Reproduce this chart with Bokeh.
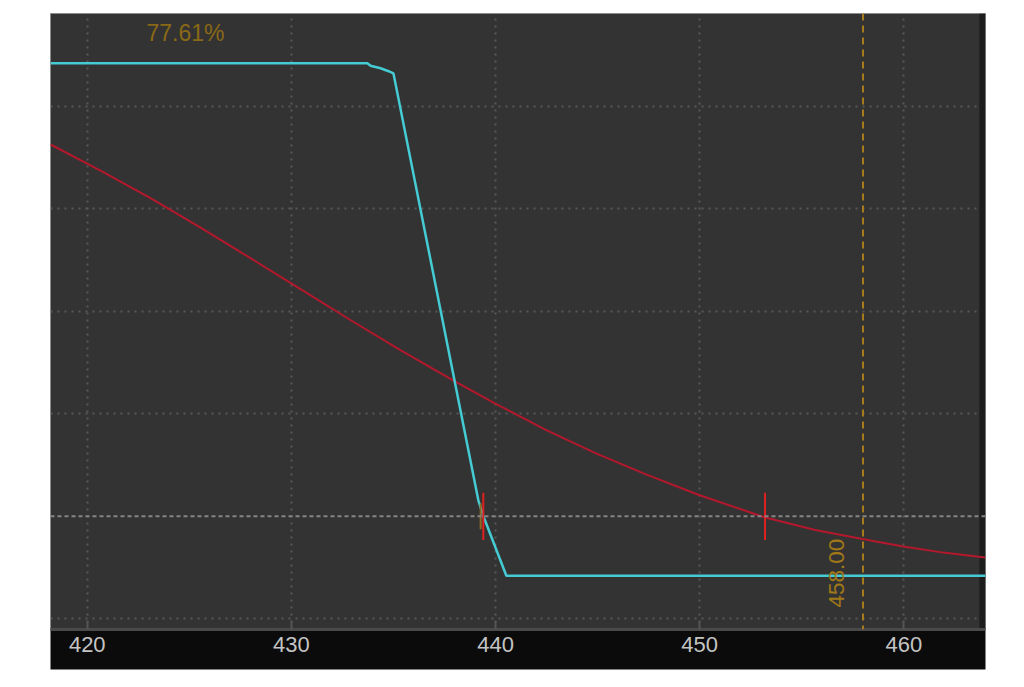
import math

from bokeh.plotting import figure
from bokeh.models import Range1d, Span, BoxAnnotation, FixedTicker
from bokeh.core.properties import value
from bokeh.embed import file_html
from bokeh.resources import INLINE

# Price axis ticks
price_ticks = [420, 430, 440, 450, 460]
level_ticks = [0, 20, 30, 40, 50]

# Probability curve (cyan)
cyan_x = [418.2, 433.72, 433.88, 434.37, 434.76, 435.0, 439.16, 439.41, 440.53, 464.0]
cyan_y = [54.2, 54.2, 53.96, 53.71, 53.42, 53.2, 11.54, 9.98, 4.2, 4.2]

# Value curve (red)
red_x = [418.20, 420.65, 423.10, 425.55, 428.00, 430.45, 432.89, 435.34, 438.03, 439.99,
         442.44, 444.89, 447.34, 449.93, 453.22, 455.66, 457.97, 459.98, 461.93, 463.99]
red_y = [46.27, 43.73, 41.05, 38.16, 35.18, 32.17, 29.15, 26.22, 23.15, 21.00,
         18.46, 16.17, 14.12, 12.11, 9.88, 8.66, 7.78, 7.05, 6.46, 5.98]

# Threshold level and crossing markers
threshold = 10.0
cross_x = [439.4, 453.2]
cross_half = 2.3
entry_x = [439.27]
entry_half = 1.25

# Reference price and probability readout
ref_price = 458.00
prob_label = "77.61%"

FONT_NAME = "Liberation Sans"
FONT = value(FONT_NAME)

p = figure(
    width=1024, height=670,
    x_range=Range1d(418.2, 464.0), y_range=Range1d(-1.04, 59.05),
    output_backend="svg", toolbar_location=None,
    min_border_left=50, min_border_right=39, min_border_top=13, min_border_bottom=41,
    background_fill_color="#333333", border_fill_color="#ffffff",
)
p.outline_line_color = "#8c8c8c"
p.outline_line_width = 1

# dark strip along the right edge
p.add_layout(BoxAnnotation(left=463.7, fill_color="#1d1d1d", fill_alpha=1.0,
                           line_alpha=0, level="underlay"))

# axes
p.yaxis.visible = False
xa = p.xaxis[0]
xa.ticker = FixedTicker(ticks=price_ticks)
xa.background_fill_color = "#0b0b0b"
xa.axis_line_color = "#4a4a4a"
xa.axis_line_width = 3
xa.major_tick_in = 8
xa.major_tick_out = 0
xa.major_tick_line_color = "#555555"
xa.major_tick_line_width = 2
xa.minor_tick_line_color = None
xa.major_label_text_color = "#c4c4c4"
xa.major_label_text_font = FONT_NAME
xa.major_label_text_font_size = "22px"
xa.major_label_standoff = 7
# blank label pads the black axis band down to the frame edge
xa.axis_label = " "
xa.axis_label_text_font_size = "10.7px"
xa.axis_label_standoff = 0

# grids
p.xgrid.ticker = FixedTicker(ticks=price_ticks)
p.ygrid.ticker = FixedTicker(ticks=level_ticks)
for g in (p.xgrid, p.ygrid):
    g.grid_line_color = "#585858"
    g.grid_line_dash = "2 5"
    g.grid_line_width = 2

# threshold level
p.add_layout(Span(location=threshold, dimension="width", line_color="#858585",
                  line_dash="4 3", line_width=2))

# reference price
p.add_layout(Span(location=ref_price, dimension="height", line_color="#a57b1c",
                  line_dash="7 5", line_width=2))

# curves
p.line(red_x, red_y, line_color="#b3182c", line_width=2)
p.line(cyan_x, cyan_y, line_color="#45cbd3", line_width=2.5)

# crossing markers
p.segment(x0=entry_x, y0=[threshold - entry_half], x1=entry_x, y1=[threshold + entry_half],
          line_color="#8c6a24", line_width=2)
p.segment(x0=cross_x, y0=[threshold - cross_half] * len(cross_x),
          x1=cross_x, y1=[threshold + cross_half] * len(cross_x),
          line_color="#e02020", line_width=2)

# labels
p.text(x=[422.9], y=[57.1], text=[prob_label], text_font=FONT,
       text_font_size="23px", text_color="#8a6916",
       text_align="left", text_baseline="middle")
p.text(x=[ref_price], y=[1.1], text=[f"{ref_price:.2f}"], text_font=FONT,
       text_font_size="22.5px", text_color="#a07818",
       text_align="left", text_baseline="alphabetic",
       angle=math.pi / 2, x_offset=-27)

open("out.html", "w").write(file_html(p, INLINE))
